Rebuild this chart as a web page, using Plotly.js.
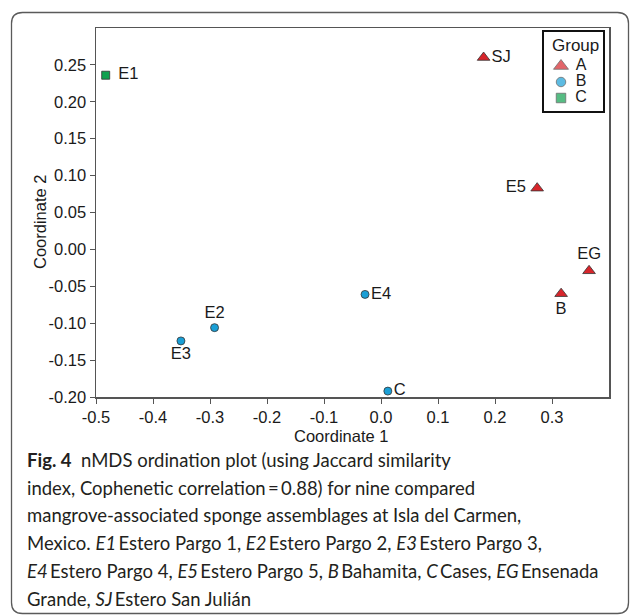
<!DOCTYPE html>
<html>
<head>
<meta charset="utf-8">
<script src="https://cdn.plot.ly/plotly-3.0.1.min.js"></script>
<style>
  html, body { margin: 0; padding: 0; background: #fff; }
  #chart { width: 630px; height: 615px; }
</style>
</head>
<body>
<div id="chart"></div>
<script>
// ---- data ----
const sites  = ['E1', 'E2', 'E3', 'E4', 'E5', 'B', 'C', 'EG', 'SJ'];
const groups = ['C', 'B', 'B', 'B', 'A', 'A', 'B', 'A', 'A'];
const coord1 = [-0.483, -0.292, -0.351, -0.028, 0.274, 0.316, 0.012, 0.365, 0.180];
const coord2 = [0.236, -0.106, -0.124, -0.061, 0.083, -0.060, -0.192, -0.029, 0.260];
const groupNames = ['A', 'B', 'C'];
const xTicks = [-0.5, -0.4, -0.3, -0.2, -0.1, 0.0, 0.1, 0.2, 0.3];
const yTicks = [-0.20, -0.15, -0.10, -0.05, 0.00, 0.05, 0.10, 0.15, 0.20, 0.25];
const xTitle = 'Coordinate 1';
const yTitle = 'Coordinate 2';
const legendTitle = 'Group';
const ts = '\u2009';
const captionLines = [
  '<b>Fig. 4</b>  nMDS ordination plot (using Jaccard similarity',
  'index, Cophenetic correlation' + ts + '=' + ts + '0.88) for nine compared',
  'mangrove-associated sponge assemblages at Isla del Carmen,',
  'Mexico. <i>E1</i>' + ts + 'Estero Pargo 1, <i>E2</i>' + ts + 'Estero Pargo 2, <i>E3</i>' + ts + 'Estero Pargo 3,',
  '<i>E4</i>' + ts + 'Estero Pargo 4, <i>E5</i>' + ts + 'Estero Pargo 5, <i>B</i>' + ts + 'Bahamita, <i>C</i>' + ts + 'Cases, <i>EG</i>' + ts + 'Ensenada',
  'Grande, <i>SJ</i>' + ts + 'Estero San Julián'
];

// ---- styles ----
const groupStyle = {
  A: {symbol: 'triangle-up', color: '#d7252b', size: 11, legSize: 13},
  B: {symbol: 'circle', color: '#1a9fd6', size: 8, legSize: 9.5},
  C: {symbol: 'square', color: '#10a14f', size: 8, legSize: 9.5}
};
const labelPos = {
  E1: 'middle right', E2: 'top center', E3: 'bottom center', E4: 'middle right',
  E5: 'middle left', B: 'bottom center', C: 'middle right', EG: 'top center', SJ: 'middle right'
};
const labelPad = {E1: '\u2009\u2009', E5: '\u2009'};

// plot area in pixels
const W = 630, H = 615;
const PL = 96, PR = 609, PT = 28, PB = 397;
const px = v => (v - PL) / (PR - PL);
const py = v => (PB - v) / (PB - PT);
// legend box in pixels
const LL = 544, LR = 603, LT = 32, LB = 111;

const chartFont = 'Liberation Sans, Arial, sans-serif';
const capFont = 'Lato, Open Sans, sans-serif';
const ink = '#1a1a1a';

const traces = groupNames.map(g => {
  const idx = sites.map((s, i) => i).filter(i => groups[i] === g);
  const st = groupStyle[g];
  return {
    type: 'scatter',
    mode: 'markers+text',
    name: g,
    x: idx.map(i => coord1[i]),
    y: idx.map(i => coord2[i]),
    text: idx.map(i => {
      const s = sites[i], p = labelPad[s] || '';
      return labelPos[s].endsWith('left') ? s + p : p + s;
    }),
    textposition: idx.map(i => labelPos[sites[i]]),
    textfont: {family: chartFont, size: 16.5, color: ink},
    marker: {symbol: st.symbol, color: st.color, size: st.size,
             line: {color: '#333', width: 0.8}},
    cliponaxis: false,
    showlegend: false,
    hoverinfo: 'text'
  };
});

// custom legend drawn in a small subplot (1 unit = 1 px)
const legY = groupNames.map((g, i) => 34 + 16 * i);
traces.push({
  type: 'scatter', mode: 'markers', xaxis: 'x2', yaxis: 'y2',
  x: groupNames.map(() => 17), y: legY,
  marker: {
    symbol: groupNames.map(g => groupStyle[g].symbol),
    color: groupNames.map(g => groupStyle[g].color),
    size: groupNames.map(g => groupStyle[g].legSize),
    line: {color: '#333', width: 0.8}
  },
  cliponaxis: false, showlegend: false, hoverinfo: 'skip'
});
traces.push({
  type: 'scatter', mode: 'text', xaxis: 'x2', yaxis: 'y2',
  x: groupNames.map(() => 37), y: legY, text: groupNames,
  textposition: 'middle center',
  textfont: {family: chartFont, size: 16, color: ink},
  cliponaxis: false, showlegend: false, hoverinfo: 'skip'
});

// rounded frame
function roundRect(L, T, R, B, r) {
  const rx = r / (PR - PL), ry = r / (PB - PT);
  const l = px(L), t = py(T), rr = px(R), b = py(B);
  return `M ${l + rx},${t} L ${rr - rx},${t} Q ${rr},${t} ${rr},${t - ry} ` +
         `L ${rr},${b + ry} Q ${rr},${b} ${rr - rx},${b} L ${l + rx},${b} ` +
         `Q ${l},${b} ${l},${b + ry} L ${l},${t - ry} Q ${l},${t} ${l + rx},${t} Z`;
}

const annotations = [
  {text: xTitle, xref: 'paper', yref: 'paper', x: px(341), y: py(436),
   xanchor: 'center', yanchor: 'middle', showarrow: false,
   font: {family: chartFont, size: 16.5, color: ink}},
  {text: yTitle, xref: 'paper', yref: 'paper', x: px(40), y: py(222),
   xanchor: 'center', yanchor: 'middle', showarrow: false, textangle: -90,
   font: {family: chartFont, size: 16.5, color: ink}},
  {text: legendTitle, xref: 'x2', yref: 'y2', x: 31.5, y: 14,
   xanchor: 'center', yanchor: 'middle', showarrow: false,
   font: {family: chartFont, size: 17, color: ink}}
];
const capY0 = 460, capStep = 27.7;
captionLines.forEach((t, i) => {
  annotations.push({
    text: t, xref: 'paper', yref: 'paper', x: px(25), y: py(capY0 + i * capStep),
    xanchor: 'left', yanchor: 'middle', align: 'left', showarrow: false,
    font: {family: capFont, size: 18.5, color: '#231f20'}
  });
});

const axCommon = {
  showgrid: false, zeroline: false, showline: true, mirror: true,
  linecolor: '#555', linewidth: 1.5, ticks: 'outside', ticklen: 5,
  tickcolor: '#555', tickwidth: 1, tickfont: {size: 16.5, family: chartFont, color: ink}
};

const layout = {
  width: W, height: H,
  margin: {l: PL, r: W - PR, t: PT, b: H - PB, pad: 0},
  paper_bgcolor: '#fff', plot_bgcolor: '#fff',
  font: {family: chartFont, size: 16, color: ink},
  xaxis: Object.assign({}, axCommon, {
    range: [-0.5, 0.4], tickvals: xTicks, ticktext: xTicks.map(v => v.toFixed(1))
  }),
  yaxis: Object.assign({}, axCommon, {
    range: [-0.2, 0.3], tickvals: yTicks, ticktext: yTicks.map(v => v.toFixed(2))
  }),
  xaxis2: {
    domain: [px(LL), px(LR)], anchor: 'y2', range: [0, LR - LL],
    showgrid: false, zeroline: false, showticklabels: false, ticks: '',
    showline: true, mirror: true, linecolor: '#111', linewidth: 1.6
  },
  yaxis2: {
    domain: [py(LB), py(LT)], anchor: 'x2', range: [LB - LT, 0],
    showgrid: false, zeroline: false, showticklabels: false, ticks: '',
    showline: true, mirror: true, linecolor: '#111', linewidth: 1.6
  },
  showlegend: false,
  shapes: [{
    type: 'path', xref: 'paper', yref: 'paper',
    path: roundRect(11.5, 12.5, 628.5, 613.5, 11),
    line: {color: '#5a5a5a', width: 1.3}, fillcolor: 'rgba(0,0,0,0)', layer: 'below'
  }],
  annotations: annotations
};

Plotly.newPlot('chart', traces, layout, {displayModeBar: false, staticPlot: true});
</script>
</body>
</html>
